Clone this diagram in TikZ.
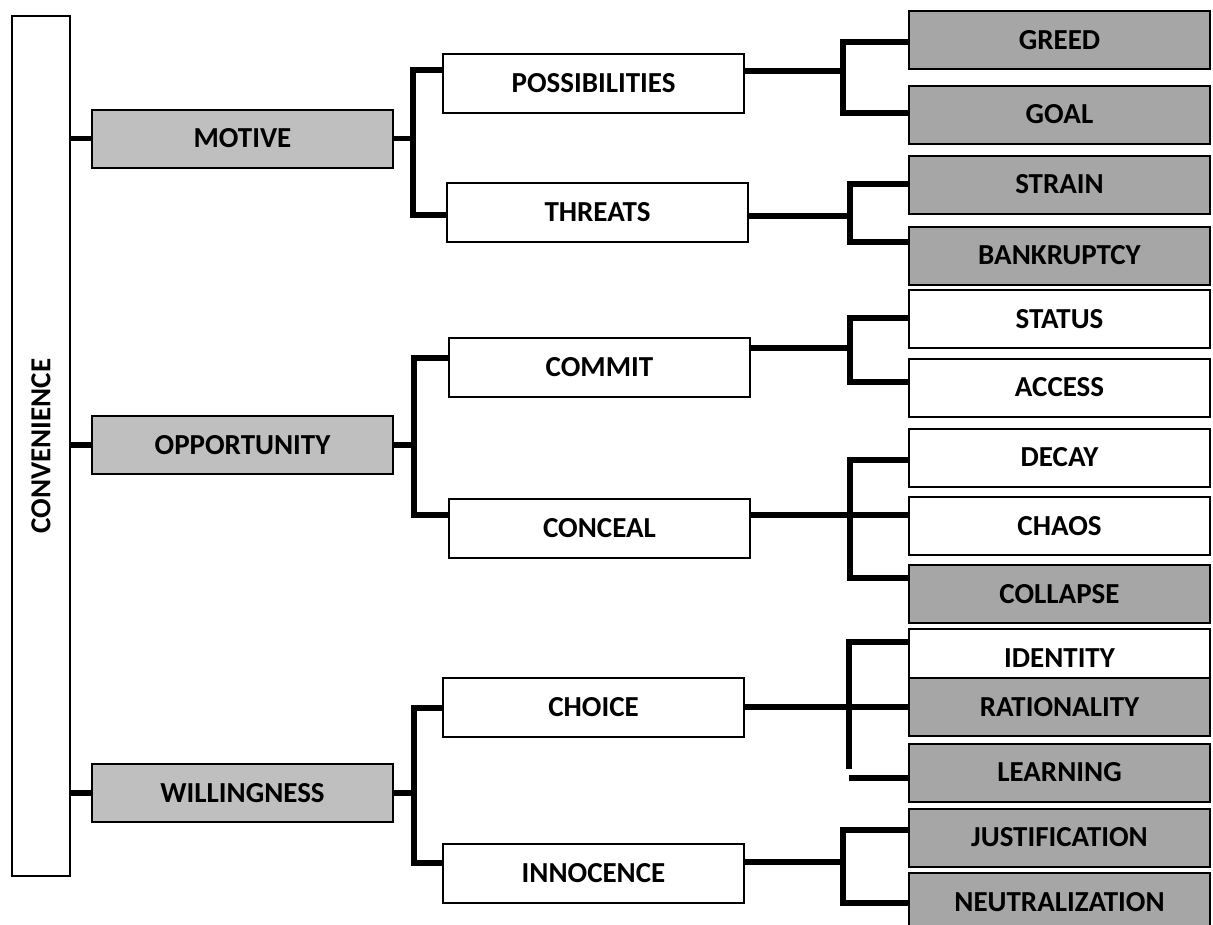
\documentclass[tikz,border=0pt]{standalone}
\usepackage{fontspec}
\setmainfont{Carlito}
\usetikzlibrary{calc}

\begin{document}
\begin{tikzpicture}[x=1pt,y=-1pt,
  lbl/.style={font=\fontsize{29}{34}\selectfont\bfseries},
  frame/.style={draw,line width=2pt,inner sep=0pt,lbl},
  convbox/.style={frame,fill=white,rotate=90,minimum width=860pt,minimum height=58pt},
  mainbox/.style={frame,fill=white!75!black,minimum width=301pt,minimum height=58pt},
  subbox/.style={frame,fill=white,minimum width=301pt,minimum height=59pt},
  leaf/.style={frame,fill=white,minimum width=301pt,minimum height=58pt},
  greyleaf/.style={leaf,fill=white!65!black},
  conn/.style={line width=5.5pt}]
\useasboundingbox (0,0) rectangle (1213,924);
\fill[white] (0,0) rectangle (1213,924);

\node[convbox] (conv) at (41,446) {CONVENIENCE};

\node[mainbox] (motive) at (242.5,138.5) {MOTIVE};
\node[mainbox] (opportunity) at (242.5,445) {OPPORTUNITY};
\node[mainbox] (willingness) at (242.5,793) {WILLINGNESS};

\node[subbox] (possibilities) at (593.5,83.5) {POSSIBILITIES};
\node[subbox] (threats) at (597.5,212.5) {THREATS};
\node[subbox] (commit) at (599.5,367.5) {COMMIT};
\node[subbox] (conceal) at (599.5,528) {CONCEAL};
\node[subbox] (choice) at (593.5,707) {CHOICE};
\node[subbox] (innocence) at (593.5,873.5) {INNOCENCE};

\node[greyleaf] (greed) at (1059.5,40) {GREED};
\node[greyleaf] (goal) at (1059.5,114.5) {GOAL};
\node[greyleaf] (strain) at (1059.5,184.5) {STRAIN};
\node[greyleaf] (bankruptcy) at (1059.5,255.5) {BANKRUPTCY};
\node[leaf] (status) at (1059.5,319) {STATUS};
\node[leaf] (access) at (1059.5,387.5) {ACCESS};
\node[leaf] (decay) at (1059.5,457.5) {DECAY};
\node[leaf] (chaos) at (1059.5,526) {CHAOS};
\node[greyleaf] (collapse) at (1059.5,594) {COLLAPSE};
\node[leaf] (identity) at (1059.5,658) {IDENTITY};
\node[greyleaf] (rationality) at (1059.5,707) {RATIONALITY};
\node[greyleaf] (learning) at (1059.5,772.5) {LEARNING};
\node[greyleaf] (justification) at (1059.5,837.5) {JUSTIFICATION};
\node[greyleaf] (neutralization) at (1059.5,902) {NEUTRALIZATION};

\draw[conn] (conv.south |- motive.west) -- (motive.west);
\draw[conn] (conv.south |- opportunity.west) -- (opportunity.west);
\draw[conn] (conv.south |- willingness.west) -- (willingness.west);

\coordinate (mot-t) at (413,70);
\coordinate (mot-b) at (413,215);
\draw[conn] (motive.east) -- (motive.east -| mot-t);
\draw[conn] (possibilities.west |- mot-t) -- (mot-t) -- (mot-b) -- (threats.west |- mot-b);

\coordinate (opp-t) at (414,358);
\coordinate (opp-b) at (414,515);
\draw[conn] (opportunity.east) -- (opportunity.east -| opp-t);
\draw[conn] (commit.west |- opp-t) -- (opp-t) -- (opp-b) -- (conceal.west |- opp-b);

\coordinate (wil-t) at (414,708);
\coordinate (wil-b) at (414,863);
\draw[conn] (willingness.east) -- (willingness.east -| wil-t);
\draw[conn] (choice.west |- wil-t) -- (wil-t) -- (wil-b) -- (innocence.west |- wil-b);

\coordinate (pos-t) at (843,42);
\coordinate (pos-m) at (843,71);
\coordinate (pos-b) at (843,113);
\draw[conn] (possibilities.east |- pos-m) -- (pos-m);
\draw[conn] (greed.west |- pos-t) -- (pos-t) -- (pos-b) -- (goal.west |- pos-b);

\coordinate (thr-t) at (850,184);
\coordinate (thr-m) at (850,216);
\coordinate (thr-b) at (850,242);
\draw[conn] (threats.east |- thr-m) -- (thr-m);
\draw[conn] (strain.west |- thr-t) -- (thr-t) -- (thr-b) -- (bankruptcy.west |- thr-b);

\coordinate (com-t) at (850,318);
\coordinate (com-m) at (850,348);
\coordinate (com-b) at (850,382);
\draw[conn] (commit.east |- com-m) -- (com-m);
\draw[conn] (status.west |- com-t) -- (com-t) -- (com-b) -- (access.west |- com-b);

\coordinate (con-t) at (850,460);
\coordinate (con-m) at (850,515);
\coordinate (con-b) at (850,578);
\draw[conn] (conceal.east |- con-m) -- (chaos.west |- con-m);
\draw[conn] (decay.west |- con-t) -- (con-t) -- (con-b) -- (collapse.west |- con-b);

\coordinate (cho-t) at (849,642);
\coordinate (cho-b) at (849,769);
\coordinate (cho-l) at (849,778);
\draw[conn] (choice.east) -- (rationality.west);
\draw[conn] (identity.west |- cho-t) -- (cho-t) -- (cho-b);
\draw[conn] (cho-l) -- (learning.west |- cho-l);

\coordinate (inn-t) at (843,830);
\coordinate (inn-m) at (843,862);
\coordinate (inn-b) at (843,903);
\draw[conn] (innocence.east |- inn-m) -- (inn-m);
\draw[conn] (justification.west |- inn-t) -- (inn-t) -- (inn-b) -- (neutralization.west |- inn-b);
\end{tikzpicture}
\end{document}
